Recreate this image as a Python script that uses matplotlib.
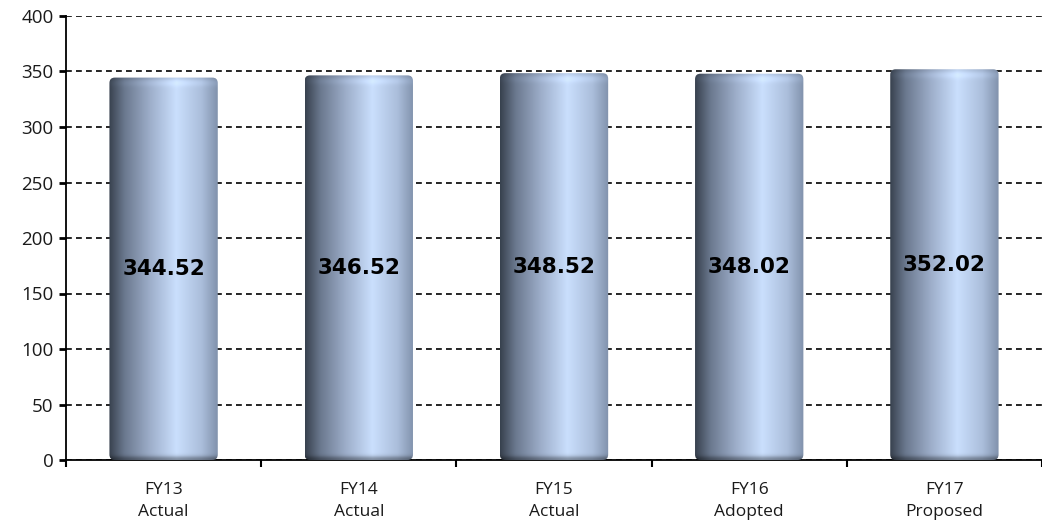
import matplotlib
matplotlib.use("Agg")
import matplotlib.pyplot as plt
import numpy as np
from matplotlib.patches import FancyBboxPatch
from matplotlib.colors import to_rgb

# data
categories = ["FY13\nActual", "FY14\nActual", "FY15\nActual", "FY16\nAdopted", "FY17\nProposed"]
values = [344.52, 346.52, 348.52, 348.02, 352.02]
labels = ["344.52", "346.52", "348.52", "348.02", "352.02"]

# horizontal shading of the cylinder (position, colour)
stops = [(0.0, "#38414e"), (0.14, "#6a788e"), (0.38, "#9eafcb"),
         (0.62, "#cadffd"), (0.85, "#abbedb"), (1.0, "#8192ac")]

def make_image(h, nx=200, ny=300):
    xs = np.linspace(0, 1, nx)
    pos = [s[0] for s in stops]
    cols = np.array([to_rgb(s[1]) for s in stops])
    row = np.stack([np.interp(xs, pos, cols[:, k]) for k in range(3)], axis=1)
    ys = np.linspace(h, 0, ny)  # top row first
    d_top = h - ys
    fac = np.ones(ny)
    fac = fac + 0.06 * np.exp(-((d_top - 5.0) / 3.0) ** 2)   # light rim near top
    fac = fac - 0.06 * np.exp(-(d_top / 2.0) ** 2)
    fac = fac - 0.35 * np.exp(-(ys / 3.0) ** 2)              # dark at the base
    img = row[None, :, :] * fac[:, None, None]
    return np.clip(img, 0, 1)

fig = plt.figure(figsize=(10.42, 5.23), dpi=100)
ax = fig.add_axes([66 / 1042, 1 - 460 / 523, 976 / 1042, 444 / 523])

ax.set_xlim(-0.5, -0.5 + 976 / 197)
ax.set_ylim(0, 400)

ax.set_yticks(np.arange(0, 401, 50))
ax.yaxis.grid(True, color="black", linestyle=(0, (3.5, 2.5)), linewidth=1.2)
ax.set_axisbelow(True)

width = 0.555
for i, v in enumerate(values):
    x0 = i - width / 2
    img = make_image(v)
    im = ax.imshow(img, extent=(x0, x0 + width, 0, v), aspect="auto",
                   interpolation="bilinear", zorder=3)
    clip = FancyBboxPatch((x0, 0), width, v,
                          boxstyle="round,pad=0,rounding_size=0.028",
                          mutation_aspect=177, transform=ax.transData,
                          facecolor="none", edgecolor="none")
    ax.add_patch(clip)
    im.set_clip_path(clip)
    ax.text(i, v / 2, labels[i], ha="center", va="center",
            fontsize=15.5, fontweight="bold", family="DejaVu Sans",
            color="black", zorder=5)

ax.set_aspect("auto")
ax.set_xticks(np.arange(len(categories)))
ax.set_xticklabels(categories, fontsize=12.5, family="Open Sans", color="#1a1a1a",
                   linespacing=1.5)
ax.set_xticks(np.arange(-0.5, len(categories), 1), minor=True)
ax.tick_params(axis="x", which="major", length=0, pad=16)
ax.tick_params(axis="x", which="minor", length=5, width=1.5, direction="out")
ax.tick_params(axis="y", length=5, width=2, direction="out", labelsize=13.5, pad=4,
               labelcolor="#1a1a1a")
for t in ax.get_yticklabels():
    t.set_family("Open Sans")

for s in ["top", "right"]:
    ax.spines[s].set_visible(False)
ax.spines["left"].set_linewidth(1.3)
ax.spines["bottom"].set_linewidth(1.3)

fig.savefig("out.png", dpi=100)
